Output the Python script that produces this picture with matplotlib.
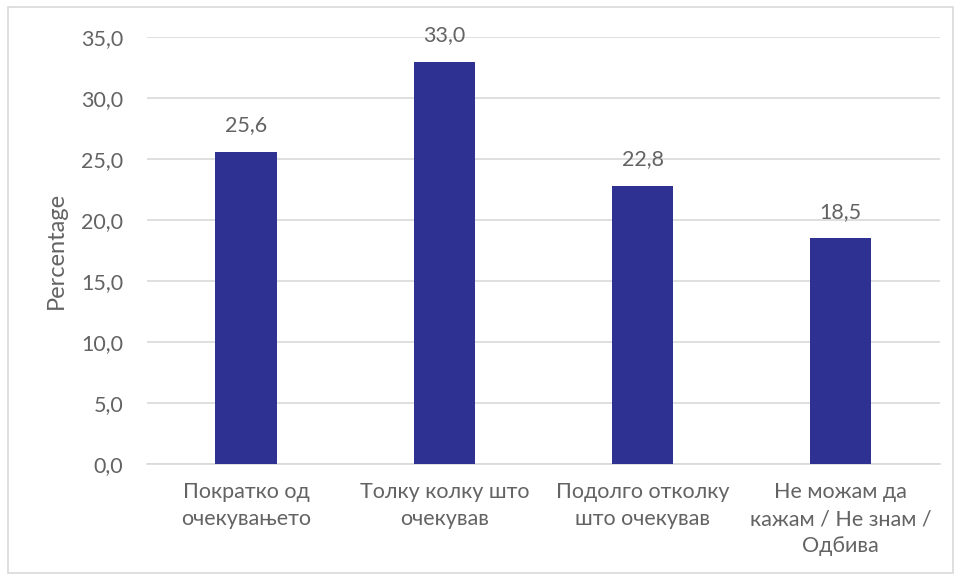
import matplotlib.pyplot as plt
from matplotlib.patches import Rectangle

categories = ['Пократко од\nочекувањето', 'Толку колку што\nочекував',
              'Подолго отколку\nшто очекував', 'Не можам да\nкажам / Не знам /\nОдбива']
values = [25.6, 33.0, 22.8, 18.5]
yticks = [0, 5, 10, 15, 20, 25, 30, 35]

plt.rcParams['font.family'] = ['Lato', 'DejaVu Sans']
text_color = '#636363'

fig = plt.figure(figsize=(9.61, 5.8), dpi=100)
ax = fig.add_axes([0.153, 0.2, 0.825, 0.736])

x = range(len(categories))
bars = ax.bar(x, values, width=0.31, color='#2E3192', zorder=3)

# подписи значений над столбцами
for xi, v in zip(x, values):
    ax.text(xi, v + 1.35, f'{v:.1f}'.replace('.', ','), ha='center', va='bottom',
            fontsize=15.5, color=text_color)

ax.set_xlim(-0.5, len(categories) - 0.5)
ax.set_ylim(0, 35)
ax.set_yticks(yticks)
ax.set_yticklabels([f'{t:.1f}'.replace('.', ',') for t in yticks], fontsize=15.5, color=text_color)
ax.set_xticks(list(x))
ax.set_xticklabels(categories, fontsize=15.5, color=text_color, linespacing=1.45)
ax.tick_params(axis='both', length=0)
ax.tick_params(axis='y', pad=17)
ax.tick_params(axis='x', pad=13)

ax.grid(axis='y', color='#D9D9D9', linewidth=1.2, zorder=0)
for side in ['top', 'right', 'left']:
    ax.spines[side].set_visible(False)
ax.spines['bottom'].set_color('#D9D9D9')
ax.spines['bottom'].set_linewidth(1.2)

ax.set_ylabel('Percentage', fontsize=17, color=text_color, labelpad=10)

# рамка вокруг всей диаграммы
fig.patches.append(Rectangle((0.008, 0.012), 0.984, 0.976, transform=fig.transFigure,
                             fill=False, edgecolor='#D9D9D9', linewidth=1.2))

fig.savefig('out.png', dpi=100, facecolor='white')
